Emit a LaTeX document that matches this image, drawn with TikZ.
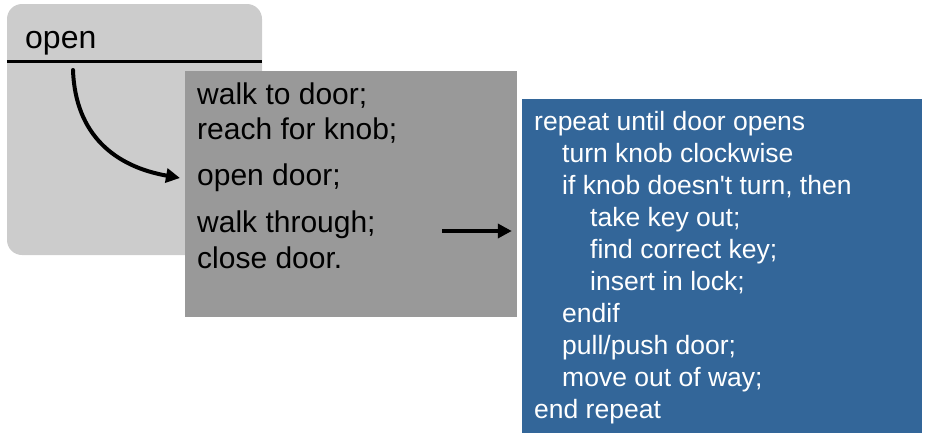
\documentclass[tikz,border=0pt]{standalone}
\usepackage{fontspec}
\setmainfont{Liberation Sans}
\usetikzlibrary{arrows.meta}

\definecolor{panelgray}{HTML}{CCCCCC}
\definecolor{stepgray}{HTML}{999999}
\definecolor{loopblue}{HTML}{336699}

\tikzset{
  steptext/.style={anchor=base west,inner sep=0pt,font=\fontsize{30}{36}\selectfont},
  looptext/.style={anchor=base west,inner sep=0pt,text=white,font=\fontsize{26.5}{32}\selectfont},
  flowarrow/.style={line width=4pt,-{Triangle[length=14pt,width=14pt]}}
}

\begin{document}
\begin{tikzpicture}[x=1pt,y=-1pt]
		\useasboundingbox (0,0) rectangle (929,437);
		% the procedure "open"
		\node[fill=panelgray,rounded corners=15pt,minimum width=255pt,minimum height=251pt,inner sep=0pt] (OpenBox) at (134.5,129.5) {};
		\node[anchor=base west,inner sep=0pt,font=\fontsize{32}{38}\selectfont] (OpenLabel) at (25,48) {open};
		\draw[line width=3pt] (OpenBox.west |- 0,61) -- (OpenBox.east |- 0,61);

		% its steps
		\node[fill=stepgray,minimum width=332pt,minimum height=246pt,inner sep=0pt] (StepBox) at (351,194) {};
		\node[steptext] (WalkDoor) at (197,104) {walk to door;};
		\node[steptext] (ReachKnob) at (197,139) {reach for knob;};
		\node[steptext] (OpenDoor) at (197,185) {open door;};
		\node[steptext] (WalkThrough) at (197,232) {walk through;};
		\node[steptext] (CloseDoor) at (197,268) {close door.};

		% the step "open door" in detail
		\node[fill=loopblue,minimum width=400pt,minimum height=334pt,inner sep=0pt] (LoopBox) at (722,266) {};
		\foreach \lvl/\txt [count=\i] in {0/repeat until door opens, 1/turn knob clockwise,
			1/{if knob doesn\textquotesingle t turn, then}, 2/take key out;, 2/find correct key;,
			2/insert in lock;, 1/endif, 1/{pull/push door;}, 1/move out of way;, 0/end repeat}
			\node[looptext] (Loop\i) at (534+28*\lvl,98+32*\i) {\txt};

		\coordinate (CurveStart) at (73,70);
		\coordinate (CurveEnd) at (180,178);
		\coordinate (StepsOut) at (442,231);
		\draw[flowarrow,line cap=round] (CurveStart) to[out=-88,in=170,looseness=1.1] (CurveEnd);
		\draw[flowarrow] (StepsOut) -- (LoopBox.west |- StepsOut) [shorten >=10pt];
		
\end{tikzpicture}
\end{document}
